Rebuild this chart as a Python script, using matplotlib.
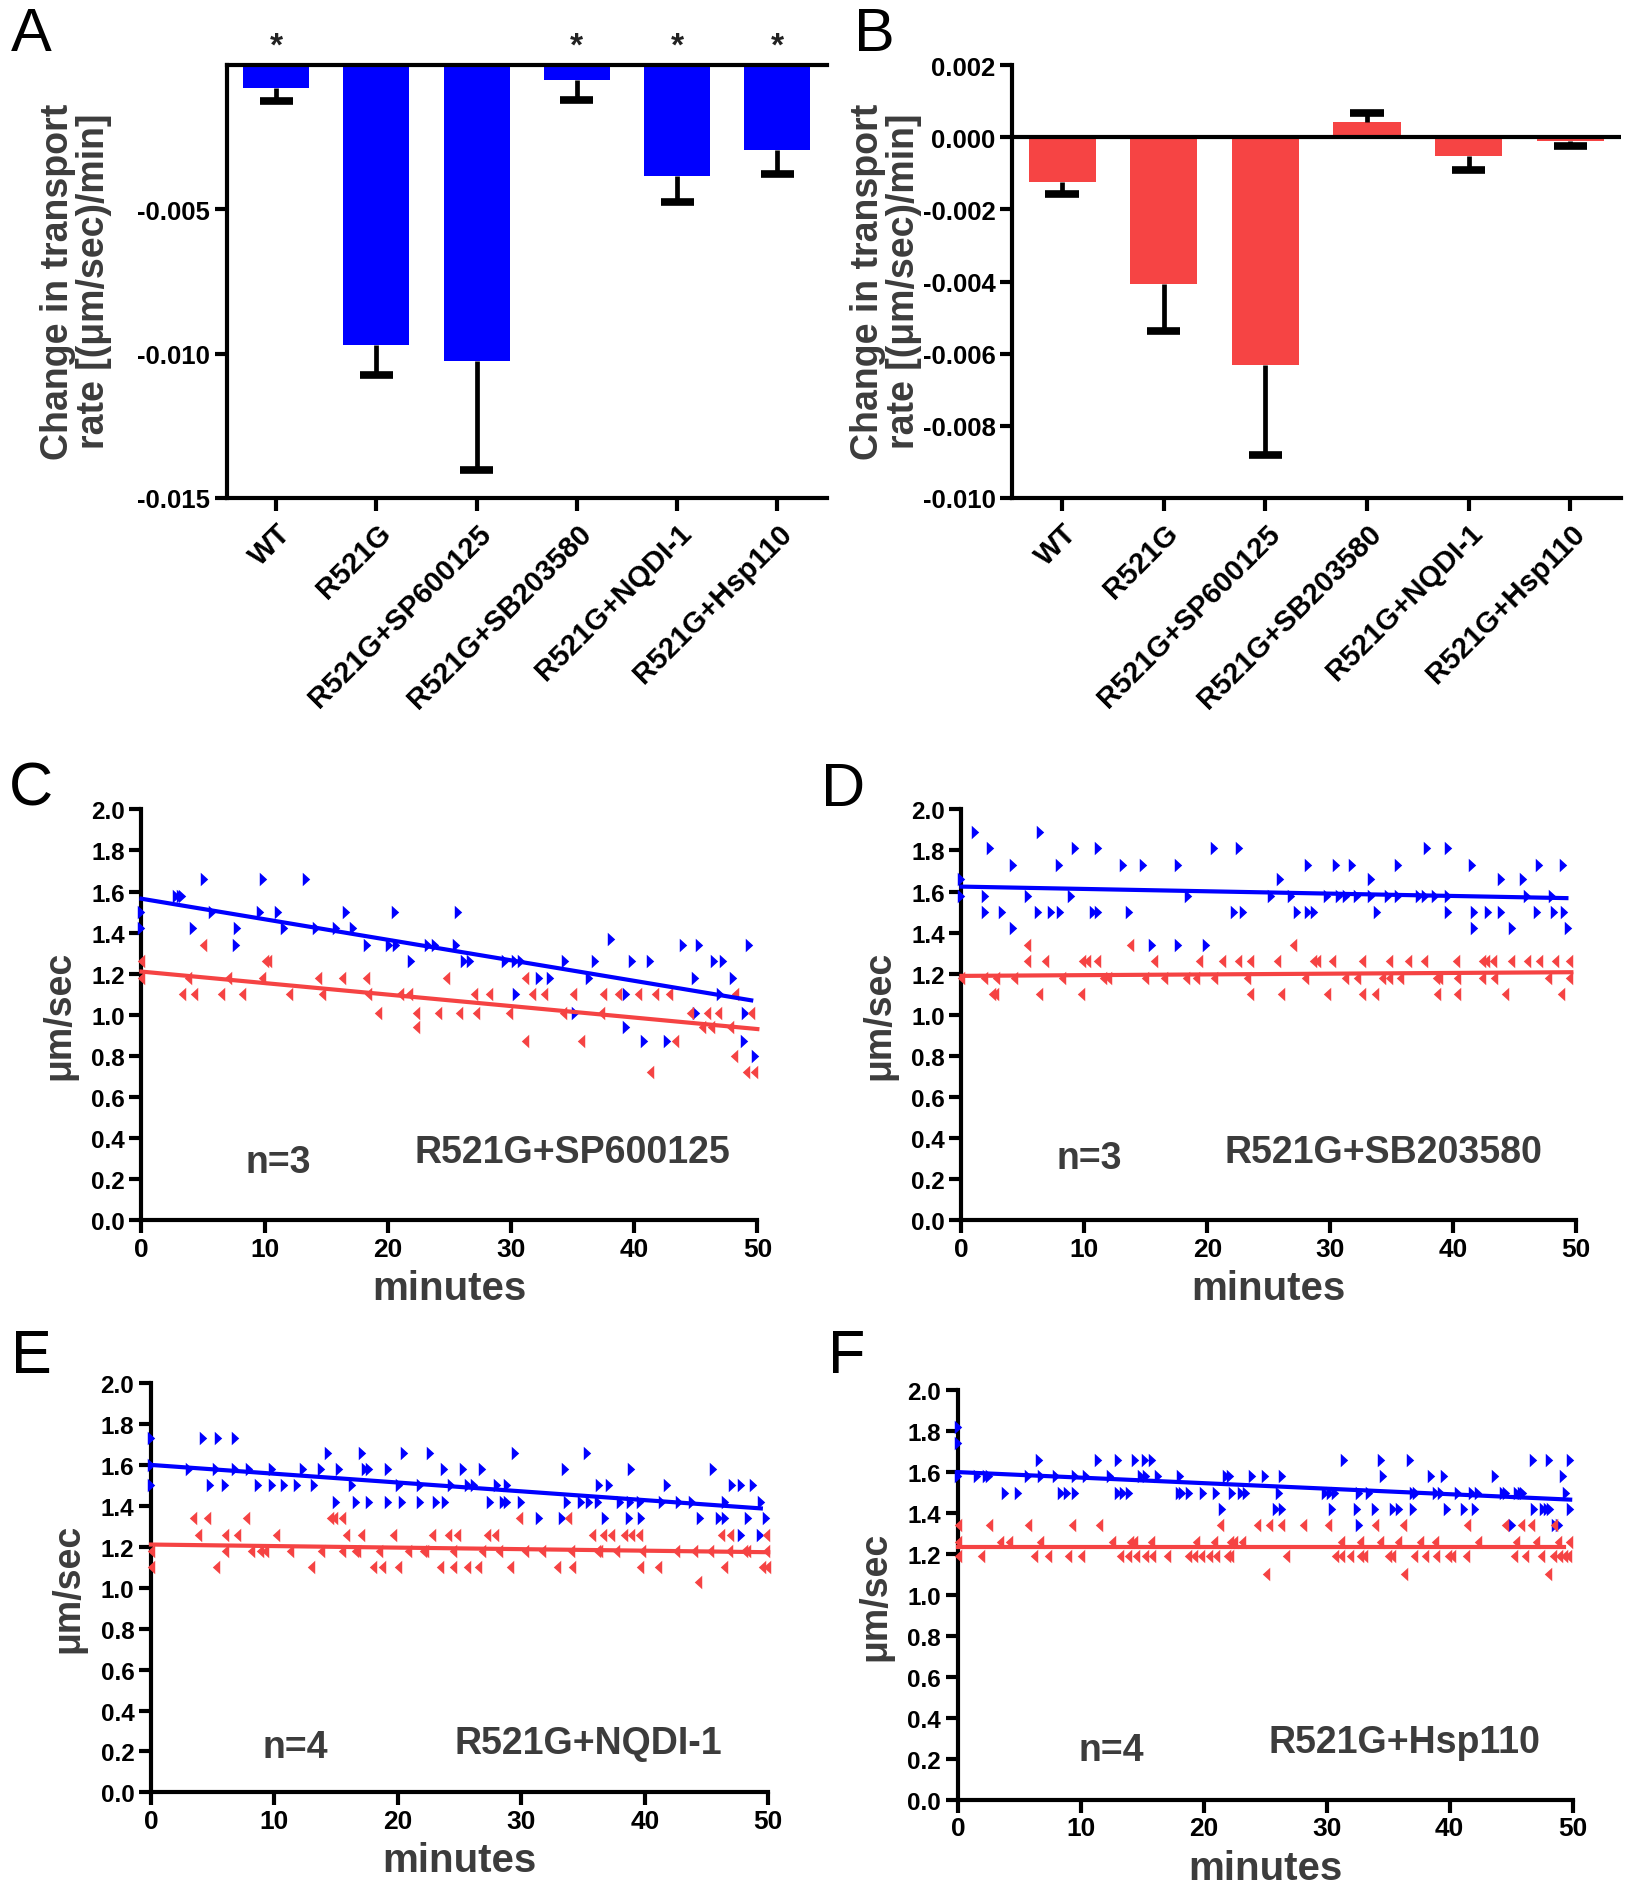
import matplotlib
matplotlib.use("Agg")
import matplotlib.pyplot as plt
import numpy as np
from matplotlib import font_manager

names = {f.name for f in font_manager.fontManager.ttflist}
NARROW = ['Liberation Sans Narrow', 'Liberation Sans', 'DejaVu Sans'] if 'Liberation Sans Narrow' in names else ['Liberation Sans', 'DejaVu Sans']
HAS_NARROW = 'Liberation Sans Narrow' in names
plt.rcParams['font.family'] = ['Liberation Sans', 'DejaVu Sans']

# ---------------- data: bar panels ----------------
categories = ["WT", "R521G", "R521G+SP600125", "R521G+SB203580", "R521G+NQDI-1", "R521G+Hsp110"]
A_values = [-0.0008, -0.0097, -0.01025, -0.0005, -0.00385, -0.00293]
A_err = [0.00044, 0.00105, 0.00377, 0.0007, 0.00088, 0.00084]
A_signif = ["*", "", "", "*", "*", "*"]
B_values = [-0.00124, -0.00406, -0.00631, 0.00044, -0.00052, -0.0001]
B_err = [0.00034, 0.00131, 0.00251, 0.00023, 0.00039, 0.00013]

# ---------------- data: scatter panels ----------------
C_blue_x = [0, 0, 2.8, 3.1, 3.3, 5.1, 4.2, 5.7, 7.8, 7.7, 9.9, 9.6, 11.1, 11.6, 13.4, 14.2, 15.8, 17.2, 16.6, 18.3,
            20.1, 20.7, 20.6, 21.9, 23.3, 23.8, 25.5, 25.7, 26.2, 26.7, 29.5, 30.3, 30.8, 30.4, 32.3, 33.2, 34.4, 35.2,
            36.3, 36.8, 38.1, 39.3, 39.3, 39.8, 41.3, 40.8, 42.7, 44.0, 45.3, 44.9, 45.0, 46.5, 47.2, 47.0, 48.0, 48.9,
            49.0, 49.3, 49.8]
C_blue_y = [1.50, 1.42, 1.58, 1.58, 1.58, 1.66, 1.42, 1.50, 1.42, 1.34, 1.66, 1.50, 1.50, 1.42, 1.66, 1.42, 1.42, 1.42, 1.50, 1.34,
            1.34, 1.34, 1.50, 1.26, 1.34, 1.34, 1.34, 1.50, 1.26, 1.26, 1.26, 1.26, 1.26, 1.10, 1.18, 1.18, 1.26, 1.01,
            1.18, 1.26, 1.37, 1.10, 0.94, 1.26, 1.26, 0.87, 0.87, 1.34, 1.34, 1.18, 1.01, 1.26, 1.26, 1.10, 1.18, 0.87,
            1.01, 1.34, 0.80]
C_red_x = [0, 0, 5.0, 3.3, 4.3, 3.8, 6.5, 8.2, 7.0, 10.0, 10.3, 9.8, 12.0, 14.3, 14.7, 16.3, 18.2, 18.4, 19.2, 21.0,
           21.7, 22.3, 22.3, 24.1, 24.7, 25.8, 27.2, 27.0, 28.2, 29.8, 31.1, 31.7, 32.7, 31.1, 34.2, 35.0, 35.7, 37.3,
           37.5, 38.7, 40.3, 41.7, 42.8, 43.3, 44.5, 45.9, 46.8, 45.5, 46.2, 47.8, 48.2, 49.5, 41.3, 49.1, 49.7, 48.1]
C_red_y = [1.26, 1.18, 1.34, 1.10, 1.10, 1.18, 1.10, 1.10, 1.18, 1.26, 1.26, 1.18, 1.10, 1.18, 1.10, 1.18, 1.18, 1.10, 1.01, 1.10,
           1.10, 1.01, 0.94, 1.01, 1.18, 1.01, 1.01, 1.10, 1.10, 1.01, 1.18, 1.10, 1.10, 0.87, 1.01, 1.10, 0.87, 1.01,
           1.10, 1.10, 1.10, 1.10, 1.10, 0.87, 1.01, 1.01, 1.01, 0.94, 0.94, 0.94, 1.10, 1.01, 0.72, 0.72, 0.72, 0.80]

D_blue_x = [0, 0, 1.1, 2.3, 1.9, 1.9, 3.3, 4.2, 4.2, 5.4, 6.2, 7.3, 8.0, 6.4, 7.9, 8.9, 9.2, 11.1, 10.7, 11.1,
            13.1, 14.8, 13.6, 15.5, 17.6, 17.6, 18.4, 19.9, 20.5, 22.6, 22.2, 22.9, 25.2, 26.8, 25.9, 27.3, 28.2, 28.7,
            28.2, 29.7, 30.7, 31.3, 32.2, 33.3, 34.7, 35.5, 37.2, 37.7, 38.5, 39.6, 30.5, 31.8, 33.3, 33.8, 35.5, 37.9,
            39.6, 39.6, 41.5, 41.7, 42.8, 43.9, 41.7, 43.9, 45.7, 44.8, 46.0, 48.0, 46.8, 48.2, 49.0, 47.0, 48.9, 49.3]
D_blue_y = [1.66, 1.58, 1.89, 1.81, 1.58, 1.50, 1.50, 1.73, 1.42, 1.58, 1.50, 1.50, 1.50, 1.89, 1.73, 1.58, 1.81, 1.81, 1.50, 1.50,
            1.73, 1.73, 1.50, 1.34, 1.73, 1.34, 1.58, 1.34, 1.81, 1.81, 1.50, 1.50, 1.58, 1.58, 1.66, 1.50, 1.50, 1.50,
            1.73, 1.58, 1.58, 1.58, 1.58, 1.58, 1.58, 1.58, 1.58, 1.58, 1.58, 1.58, 1.73, 1.73, 1.66, 1.50, 1.73, 1.81,
            1.81, 1.50, 1.73, 1.50, 1.50, 1.50, 1.42, 1.66, 1.66, 1.42, 1.58, 1.58, 1.50, 1.50, 1.50, 1.73, 1.73, 1.42]
D_red_x = [0, 1.8, 2.8, 2.5, 2.7, 4.3, 5.3, 5.3, 6.3, 6.8, 8.2, 9.7, 9.8, 10.2, 11.0, 11.5, 11.9, 13.7, 14.9, 16.5,
           18.3, 19.1, 20.5, 15.7, 19.3, 21.2, 22.5, 23.5, 23.2, 23.5, 25.7, 26.0, 27.0, 27.9, 28.6, 28.9, 30.1, 29.7,
           31.2, 32.2, 32.6, 32.6, 33.6, 34.2, 34.8, 35.7, 34.8, 36.3, 37.6, 38.6, 38.8, 40.3, 38.7, 40.3, 40.2, 42.3,
           43.3, 42.3, 42.7, 43.2, 44.2, 44.7, 46.0, 47.0, 48.3, 49.4, 47.7, 49.4, 48.8]
D_red_y = [1.18, 1.18, 1.18, 1.10, 1.10, 1.18, 1.34, 1.26, 1.10, 1.26, 1.18, 1.10, 1.26, 1.26, 1.26, 1.18, 1.18, 1.34, 1.18, 1.18,
           1.18, 1.18, 1.18, 1.26, 1.26, 1.26, 1.26, 1.26, 1.18, 1.10, 1.26, 1.10, 1.34, 1.18, 1.26, 1.26, 1.26, 1.10,
           1.18, 1.18, 1.26, 1.10, 1.10, 1.18, 1.18, 1.18, 1.26, 1.26, 1.26, 1.18, 1.18, 1.18, 1.10, 1.10, 1.26, 1.18,
           1.18, 1.26, 1.26, 1.26, 1.10, 1.26, 1.26, 1.26, 1.26, 1.26, 1.18, 1.18, 1.10]

E_blue_x = [0, 0, 0, 4.2, 5.4, 6.8, 3.1, 5.3, 6.8, 7.9, 9.8, 12.3, 13.8, 15.2, 17.3, 17.7, 19.2, 4.8, 6.0, 8.7,
            9.8, 10.8, 11.8, 13.2, 14.3, 17.1, 20.5, 22.6, 15.0, 16.6, 17.7, 19.2, 20.3, 21.8, 23.1, 23.8, 16.3, 20.1,
            21.8, 23.7, 25.3, 26.8, 24.3, 25.7, 26.2, 28.0, 28.8, 27.5, 28.5, 28.8, 30.0, 29.5, 31.4, 33.5, 33.3, 33.7,
            34.8, 35.5, 36.2, 35.3, 36.3, 37.1, 36.8, 38.7, 39.7, 38.0, 38.8, 39.6, 41.4, 42.8, 43.8, 46.5, 38.9, 41.8,
            45.5, 44.5, 46.0, 46.5, 48.4, 49.8, 47.1, 47.8, 48.8, 49.4, 47.8, 49.3]
E_blue_y = [1.73, 1.60, 1.50, 1.73, 1.73, 1.73, 1.58, 1.58, 1.58, 1.58, 1.58, 1.58, 1.58, 1.58, 1.58, 1.58, 1.58, 1.50, 1.50, 1.50,
            1.50, 1.50, 1.50, 1.50, 1.66, 1.66, 1.66, 1.66, 1.42, 1.42, 1.42, 1.42, 1.42, 1.42, 1.42, 1.42, 1.50, 1.50,
            1.50, 1.58, 1.58, 1.58, 1.50, 1.50, 1.50, 1.50, 1.50, 1.42, 1.42, 1.42, 1.42, 1.66, 1.34, 1.58, 1.34, 1.42,
            1.42, 1.42, 1.42, 1.66, 1.50, 1.50, 1.34, 1.34, 1.34, 1.42, 1.42, 1.42, 1.42, 1.42, 1.42, 1.42, 1.58, 1.50,
            1.58, 1.34, 1.34, 1.34, 1.34, 1.34, 1.50, 1.50, 1.50, 1.42, 1.26, 1.26]
E_red_x = [0, 0, 3.4, 4.5, 7.7, 14.5, 14.8, 15.5, 29.8, 33.8, 3.8, 6.0, 7.0, 10.1, 15.8, 17.0, 19.6, 22.8, 24.1, 24.8,
           27.2, 27.9, 35.7, 36.6, 37.3, 38.3, 38.9, 39.5, 46.2, 46.9, 49.8, 5.3, 13.0, 18.0, 18.7, 20.0, 23.4, 24.5,
           25.6, 26.5, 29.1, 32.9, 34.1, 39.6, 41.1, 46.4, 49.5, 49.9, 6.0, 8.1, 8.8, 9.2, 11.3, 13.8, 15.5, 16.5,
           16.7, 18.5, 20.8, 22.0, 22.2, 24.5, 26.8, 28.2, 30.3, 31.7, 34.0, 36.1, 36.3, 37.7, 39.8, 42.5, 44.0, 45.3,
           46.8, 48.0, 48.3, 49.8, 44.3]
E_red_y = [1.18, 1.10, 1.34, 1.34, 1.34, 1.34, 1.34, 1.34, 1.34, 1.34, 1.26, 1.26, 1.26, 1.26, 1.26, 1.26, 1.26, 1.26, 1.26, 1.26,
           1.26, 1.26, 1.26, 1.26, 1.26, 1.26, 1.26, 1.26, 1.26, 1.26, 1.26, 1.10, 1.10, 1.10, 1.10, 1.10, 1.10, 1.10,
           1.10, 1.10, 1.10, 1.10, 1.10, 1.10, 1.10, 1.10, 1.10, 1.10, 1.18, 1.18, 1.18, 1.18, 1.18, 1.18, 1.18, 1.18,
           1.18, 1.18, 1.18, 1.18, 1.18, 1.18, 1.18, 1.18, 1.18, 1.18, 1.18, 1.18, 1.18, 1.18, 1.18, 1.18, 1.18, 1.18,
           1.18, 1.18, 1.18, 1.18, 1.03]

F_blue_x = [0, 0, 0, 6.6, 11.4, 13.0, 14.4, 15.2, 15.8, 31.4, 34.4, 36.8, 46.8, 48.1, 49.8,
            1.6, 2.3, 2.5, 5.7, 6.8, 8.0, 9.5, 10.4, 12.4, 14.9, 15.3, 16.3, 18.1, 21.8, 22.1, 23.9, 25.0, 26.4, 34.6,
            38.5, 39.5, 43.7, 49.2,
            3.8, 4.9, 8.4, 8.9, 9.5, 13.0, 13.4, 13.9, 18.0, 18.2, 18.8, 19.9, 21.0, 22.3, 23.0, 23.4, 26.1, 29.9, 30.3,
            30.7, 32.6, 33.4, 37.0, 37.3, 38.9, 39.3, 40.7, 41.8, 42.3, 44.3, 44.6, 45.5, 45.8, 46.0, 49.5,
            21.5, 25.9, 26.4, 30.4, 32.5, 33.9, 35.4, 35.9, 37.0, 39.8, 41.2, 42.1, 46.9, 47.6, 47.9, 48.2, 49.8,
            32.6, 45.1, 48.6, 48.9]
F_blue_y = [1.82, 1.74, 1.58, 1.66, 1.66, 1.66, 1.66, 1.66, 1.66, 1.66, 1.66, 1.66, 1.66, 1.66, 1.66,
            1.58, 1.58, 1.58, 1.58, 1.58, 1.58, 1.58, 1.58, 1.58, 1.58, 1.58, 1.58, 1.58, 1.58, 1.58, 1.58, 1.58, 1.58, 1.58,
            1.58, 1.58, 1.58, 1.58,
            1.50, 1.50, 1.50, 1.50, 1.50, 1.50, 1.50, 1.50, 1.50, 1.50, 1.50, 1.50, 1.50, 1.50, 1.50, 1.50, 1.50, 1.50, 1.50,
            1.50, 1.50, 1.50, 1.50, 1.50, 1.50, 1.50, 1.50, 1.50, 1.50, 1.50, 1.50, 1.50, 1.50, 1.50, 1.50,
            1.42, 1.42, 1.42, 1.42, 1.42, 1.42, 1.42, 1.42, 1.42, 1.42, 1.42, 1.42, 1.42, 1.42, 1.42, 1.42, 1.42,
            1.34, 1.34, 1.34, 1.34]
F_red_x = [0, 2.5, 5.7, 9.3, 11.5, 21.3, 24.3, 25.3, 26.3, 28.1, 30.1, 33.9, 36.2, 41.4, 44.5, 45.8, 46.6, 48.5,
           0, 3.4, 4.2, 6.7, 12.5, 14.0, 14.3, 15.7, 19.4, 20.8, 22.1, 22.5, 23.1, 31.2, 32.7, 34.3, 35.8, 37.6, 38.8,
           42.3, 45.4, 47.0, 48.8, 49.7,
           0, 1.9, 6.2, 7.3, 9.0, 10.0, 13.2, 13.8, 14.5, 15.2, 15.8, 17.0, 18.7, 19.2, 19.8, 20.4, 21.0, 21.9, 22.1,
           26.7, 30.7, 31.2, 31.9, 32.7, 33.0, 35.0, 35.3, 37.1, 38.0, 38.9, 39.9, 40.2, 41.3, 45.2, 46.1, 47.4, 48.4,
           48.9, 49.3, 49.6,
           25.1, 36.3, 48.0]
F_red_y = [1.34, 1.34, 1.34, 1.34, 1.34, 1.34, 1.34, 1.34, 1.34, 1.34, 1.34, 1.34, 1.34, 1.34, 1.34, 1.34, 1.34, 1.34,
           1.26, 1.26, 1.26, 1.26, 1.26, 1.26, 1.26, 1.26, 1.26, 1.26, 1.26, 1.26, 1.26, 1.26, 1.26, 1.26, 1.26, 1.26, 1.26,
           1.26, 1.26, 1.26, 1.26, 1.26,
           1.19, 1.19, 1.19, 1.19, 1.19, 1.19, 1.19, 1.19, 1.19, 1.19, 1.19, 1.19, 1.19, 1.19, 1.19, 1.19, 1.19, 1.19, 1.19,
           1.19, 1.19, 1.19, 1.19, 1.19, 1.19, 1.19, 1.19, 1.19, 1.19, 1.19, 1.19, 1.19, 1.19, 1.19, 1.19, 1.19, 1.19,
           1.19, 1.19, 1.19,
           1.10, 1.10, 1.10]

# fitted regression lines: (intercept, slope, end x)
C_fit_blue = (1.565, -0.0100, 49.5)
C_fit_red = (1.210, -0.0056, 50.0)
D_fit_blue = (1.624, -0.00114, 49.2)
D_fit_red = (1.189, 0.00036, 49.6)
E_fit_blue = (1.600, -0.0043, 49.4)
E_fit_red = (1.211, -0.00075, 50.0)
F_fit_blue = (1.600, -0.0027, 49.8)
F_fit_red = (1.236, 0.0, 49.3)

C_text = ("n=3", "R521G+SP600125")
D_text = ("n=3", "R521G+SB203580")
E_text = ("n=4", "R521G+NQDI-1")
F_text = ("n=4", "R521G+Hsp110")

BLUE = "#0000ff"
RED = "#f54343"
GRAY = "#3c3c3c"

fig = plt.figure(figsize=(16.5, 18.9), dpi=100)

SPINE_W = 3.0
BAR_TICK_SIZE = 21 if HAS_NARROW else 18.5
SC_TICK_SIZE = 19 if HAS_NARROW else 17.5
SC_XTICK_SIZE = 21 if HAS_NARROW else 19


def style_ticks(ax, size):
    ax.tick_params(axis='both', which='major', length=9, width=SPINE_W, direction='out', pad=3)
    for lab in ax.get_yticklabels():
        lab.set_family(NARROW)
        lab.set_fontweight('bold')
        lab.set_fontsize(size)


def bar_panel(rect, values, errs, color, ylim, yticks, ylabels, signif=None, zero_line=False):
    ax = fig.add_axes(rect)
    x = np.arange(len(categories))
    v = np.array(values)
    e = np.array(errs)
    ax.bar(x, v, width=0.66, color=color, edgecolor='none', zorder=2)
    ends = np.where(v < 0, v - e, v + e)
    ax.vlines(x, v, ends, colors='black', lw=3.4, zorder=3)
    ax.hlines(ends, x - 0.165, x + 0.165, colors='black', lw=5.5, zorder=3)
    ax.set_xlim(-0.49, 5.5)
    ax.set_ylim(*ylim)
    ax.set_yticks(yticks)
    ax.set_yticklabels(ylabels)
    ax.set_xticks(x)
    ax.set_xticklabels(categories, rotation=45, ha='right', rotation_mode='anchor',
                       fontsize=21, fontweight='bold')
    ax.spines['right'].set_visible(False)
    ax.spines['top'].set_visible(not zero_line)
    for s in ['left', 'bottom', 'top']:
        ax.spines[s].set_linewidth(SPINE_W)
    if zero_line:
        ax.axhline(0, color='black', lw=SPINE_W, zorder=4)
    style_ticks(ax, BAR_TICK_SIZE)
    ax.tick_params(axis='x', pad=6)
    if signif:
        for xi, s in zip(x, signif):
            if s:
                ax.text(xi, 1.045, s, transform=ax.get_xaxis_transform(), ha='center', va='center',
                        fontsize=24, fontweight='bold', color='#222222')
    return ax


axA = bar_panel([0.1376, 0.7361, 0.3639, 0.2288], A_values, A_err, BLUE, (-0.015, 0.0),
                [-0.015, -0.010, -0.005], ["-0.015", "-0.010", "-0.005"], signif=A_signif)
axB = bar_panel([0.6135, 0.7361, 0.3690, 0.2288], B_values, B_err, "#f64444", (-0.010, 0.002),
                [-0.010, -0.008, -0.006, -0.004, -0.002, 0.0, 0.002],
                ["-0.010", "-0.008", "-0.006", "-0.004", "-0.002", "0.000", "0.002"], zero_line=True)

ylab = "Change in transport\nrate [(\u03bcm/sec)/min]"
fig.text(0.046, 0.851, ylab, rotation=90, ha='center', va='center', fontsize=27, fontweight='bold',
         color=GRAY, linespacing=1.0)
fig.text(0.537, 0.851, ylab, rotation=90, ha='center', va='center', fontsize=27, fontweight='bold',
         color=GRAY, linespacing=1.0)


def right_tri():
    return [(-0.55, -1.0), (0.55, 0.0), (-0.55, 1.0)]


def left_tri():
    return [(0.55, -1.0), (-0.55, 0.0), (0.55, 1.0)]


def scatter_panel(rect, bx, by, rx, ry, fit_b, fit_r, texts, tpos):
    ax = fig.add_axes(rect)
    ax.scatter(bx, by, marker=right_tri(), s=95, color=BLUE, linewidths=0, zorder=3, clip_on=False)
    ax.scatter(rx, ry, marker=left_tri(), s=95, color=RED, linewidths=0, zorder=3, clip_on=False)
    for (b0, b1, xe), col in [(fit_b, BLUE), (fit_r, RED)]:
        xs = np.array([0.0, xe])
        ax.plot(xs, b0 + b1 * xs, color=col, lw=3.0, zorder=4, clip_on=False)
    ax.set_xlim(0, 50)
    ax.set_ylim(0, 2.0)
    ax.set_xticks([0, 10, 20, 30, 40, 50])
    ax.set_yticks(np.round(np.arange(0, 2.01, 0.2), 1))
    ax.set_yticklabels(["%.1f" % v for v in np.arange(0, 2.01, 0.2)])
    for s in ['right', 'top']:
        ax.spines[s].set_visible(False)
    for s in ['left', 'bottom']:
        ax.spines[s].set_linewidth(SPINE_W)
    style_ticks(ax, SC_TICK_SIZE)
    for lab in ax.get_xticklabels():
        lab.set_family(NARROW)
        lab.set_fontweight('bold')
        lab.set_fontsize(SC_XTICK_SIZE)
    ax.set_xlabel("minutes", fontsize=29, fontweight='bold', color=GRAY, family=NARROW, labelpad=6)
    ax.set_ylabel("\u03bcm/sec", fontsize=27, fontweight='bold', color=GRAY, labelpad=10)
    ax.text(tpos[0], tpos[1], texts[0], ha='center', va='center', fontsize=27, fontweight='bold', color=GRAY)
    ax.text(tpos[2], tpos[3], texts[1], ha='center', va='center', fontsize=27, fontweight='bold', color=GRAY)
    return ax


axC = scatter_panel([0.0857, 0.3540, 0.3733, 0.2172], C_blue_x, C_blue_y, C_red_x, C_red_y,
                    C_fit_blue, C_fit_red, C_text, (11.1, 0.28, 35.0, 0.33))
axD = scatter_panel([0.5827, 0.3540, 0.3726, 0.2172], D_blue_x, D_blue_y, D_red_x, D_red_y,
                    D_fit_blue, D_fit_red, D_text, (10.4, 0.30, 34.3, 0.33))
axE = scatter_panel([0.0915, 0.0511, 0.3741, 0.2166], E_blue_x, E_blue_y, E_red_x, E_red_y,
                    E_fit_blue, E_fit_red, E_text, (11.7, 0.22, 35.4, 0.24))
axF = scatter_panel([0.5805, 0.0473, 0.3726, 0.2166], F_blue_x, F_blue_y, F_red_x, F_red_y,
                    F_fit_blue, F_fit_red, F_text, (12.5, 0.24, 36.3, 0.28))

for letter, (px, py) in zip("ABCDEF", [(0.019, 0.981), (0.530, 0.981), (0.019, 0.582),
                                         (0.511, 0.582), (0.019, 0.282), (0.513, 0.282)]):
    fig.text(px, py, letter, ha='center', va='center', fontsize=44, color='black')

fig.savefig("out.png", dpi=100)
